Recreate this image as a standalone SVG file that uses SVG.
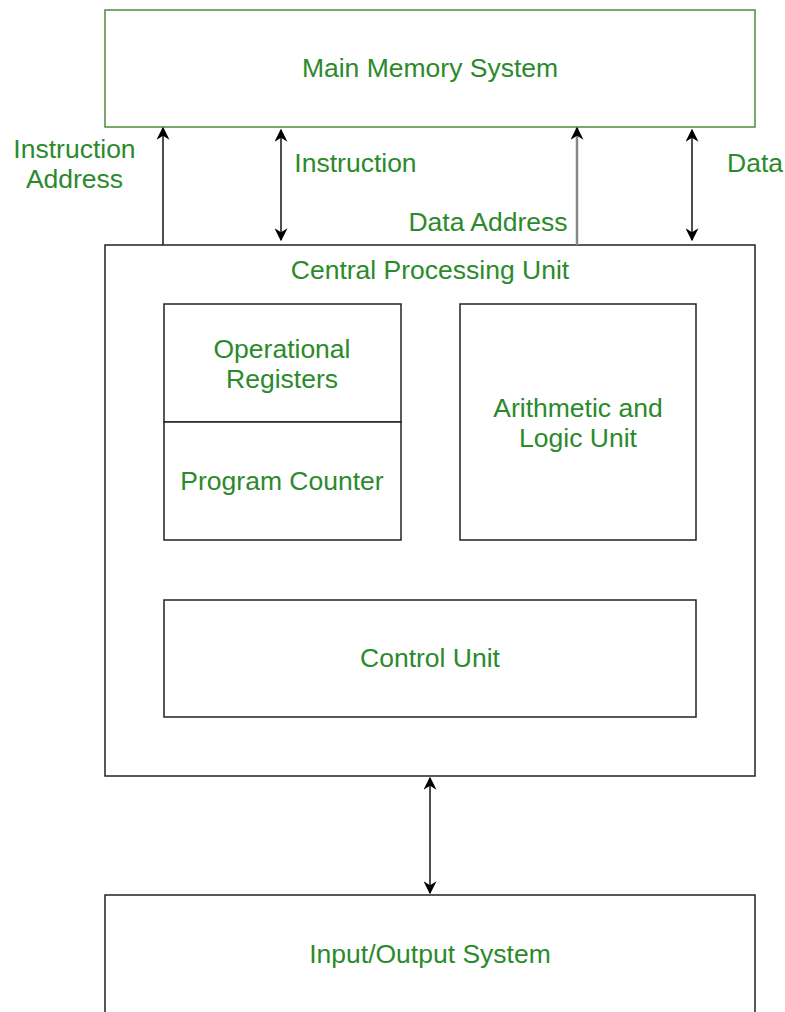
<svg xmlns="http://www.w3.org/2000/svg" width="785" height="1012" viewBox="0 0 785 1012">
<style>
.t{font-family:"Liberation Sans",Arial,sans-serif;font-size:26.5px;fill:#2b8a2b;text-anchor:middle}
.box{fill:#fff;stroke:#222;stroke-width:1.5}
.gbox{fill:#fff;stroke:#4c8c3c;stroke-width:1.5}
.c{stroke:#222;stroke-width:1.6;fill:none}
</style>
<defs>
<marker id="ah2" viewBox="0 0 10 10" refX="9" refY="5" markerWidth="13" markerHeight="13" markerUnits="userSpaceOnUse" orient="auto-start-reverse">
<path d="M0,0 L10,5 L0,10 L3,5 z" fill="#000"/>
</marker>
</defs>
<rect width="785" height="1012" fill="#fff"/>
<g id="mem"><rect class="gbox" x="105" y="10" width="650" height="117"/><text class="t" x="430" y="77">Main Memory System</text></g>
<g id="cpu"><rect class="box" x="105" y="245" width="650" height="531"/><text class="t" x="430" y="279">Central Processing Unit</text></g>
<g id="opreg"><rect class="box" x="164" y="304" width="237" height="118"/><text class="t" x="282" y="358">Operational</text><text class="t" x="282" y="388">Registers</text></g>
<g id="pc"><rect class="box" x="164" y="422" width="237" height="118"/><text class="t" x="282" y="490">Program Counter</text></g>
<g id="alu"><rect class="box" x="460" y="304" width="236" height="236"/><text class="t" x="578" y="417">Arithmetic and</text><text class="t" x="578" y="447">Logic Unit</text></g>
<g id="cu"><rect class="box" x="164" y="600" width="532" height="117"/><text class="t" x="430" y="667">Control Unit</text></g>
<g id="io"><rect class="box" x="105" y="895" width="650" height="130"/><text class="t" x="430" y="963">Input/Output System</text></g>
<g id="connectors">
<line class="c" x1="163" y1="245" x2="163" y2="128" marker-end="url(#ah2)"/>
<line class="c" x1="281" y1="130" x2="281" y2="240" marker-start="url(#ah2)" marker-end="url(#ah2)"/>
<line x1="577" y1="245" x2="577" y2="128" stroke="#888" stroke-width="2.5" marker-end="url(#ah2)"/>
<line class="c" x1="692" y1="130" x2="692" y2="240" marker-start="url(#ah2)" marker-end="url(#ah2)"/>
<line class="c" x1="430" y1="778" x2="430" y2="893" marker-start="url(#ah2)" marker-end="url(#ah2)"/>
</g>
<g id="labels">
<text class="t" x="74.5" y="158">Instruction</text>
<text class="t" x="74.5" y="188">Address</text>
<text class="t" x="355.5" y="172">Instruction</text>
<text class="t" x="488" y="231">Data Address</text>
<text class="t" x="755" y="172">Data</text>
</g>
</svg>
